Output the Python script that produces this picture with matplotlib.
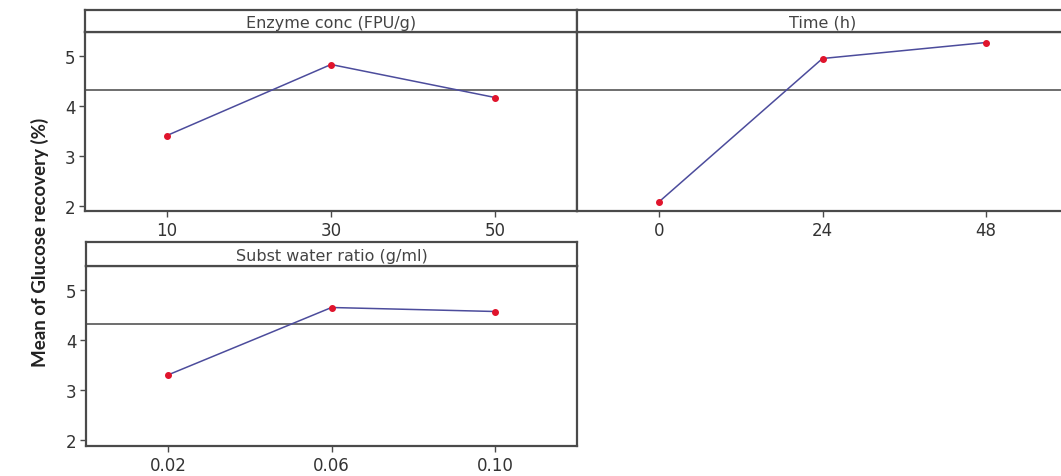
import matplotlib
matplotlib.use('Agg')
import matplotlib.pyplot as plt

# Main effects for glucose recovery
enzyme_levels = ['10', '30', '50']
enzyme_means = [3.41, 4.83, 4.17]

time_levels = ['0', '24', '48']
time_means = [2.08, 4.95, 5.27]

ratio_levels = ['0.02', '0.06', '0.10']
ratio_means = [3.30, 4.65, 4.57]

grand_mean = 4.32
y_ticks = [2, 3, 4, 5]

W, H = 1061, 477
fig = plt.figure(figsize=(W / 100, H / 100), dpi=100)

frame_col = '#4a4a4a'


def px_axes(x0, y0, x1, y1):
    # pixel box (from top-left) -> figure axes
    return fig.add_axes([x0 / W, 1 - y1 / H, (x1 - x0) / W, (y1 - y0) / H])


def panel(box, strip_top, title, levels, means, ylim, show_y=True):
    x0, y0, x1, y1 = box
    ax = px_axes(x0, y0, x1, y1)
    pos = list(range(1, len(levels) + 1))
    ax.plot(pos, means, color='#4c4c9c', lw=1.1, zorder=3)
    ax.plot(pos, means, 'o', color='#e0142c', ms=4, zorder=4)
    ax.axhline(grand_mean, color='#555555', lw=1.2, zorder=2)
    ax.set_xlim(0.5, len(levels) + 0.5)
    ax.set_ylim(*ylim)
    ax.set_xticks(pos)
    ax.set_xticklabels(levels, fontsize=12, color='#333333')
    ax.set_yticks(y_ticks)
    if show_y:
        ax.set_yticklabels([str(t) for t in y_ticks], fontsize=12, color='#333333')
    else:
        ax.tick_params(axis='y', left=False, labelleft=False)
    ax.tick_params(axis='both', direction='out', length=4, width=1, color=frame_col, pad=3)
    for s in ax.spines.values():
        s.set_color(frame_col)
        s.set_linewidth(1.6)

    st = px_axes(x0, strip_top, x1, y0)
    st.set_xticks([])
    st.set_yticks([])
    for s in st.spines.values():
        s.set_color(frame_col)
        s.set_linewidth(1.6)
    st.text(0.5, 0.45, title, ha='center', va='center', fontsize=11.5,
            color='#444444', transform=st.transAxes)
    return ax


panel((85, 33, 577, 212), 11, 'Enzyme conc (FPU/g)', enzyme_levels, enzyme_means, (1.9, 5.48))
panel((577, 33, 1068, 212), 11, 'Time (h)', time_levels, time_means, (1.9, 5.48), show_y=False)
panel((86, 267, 577, 447), 243, 'Subst water ratio (g/ml)', ratio_levels, ratio_means, (1.88, 5.48))

fig.text(40 / W, 1 - 242 / H, 'Mean of Glucose recovery (%)', rotation=90,
         ha='center', va='center', fontsize=13.5, fontweight='bold',
         family=['Lato', 'DejaVu Sans'], color='#222222')

fig.savefig('out.png', dpi=100)
